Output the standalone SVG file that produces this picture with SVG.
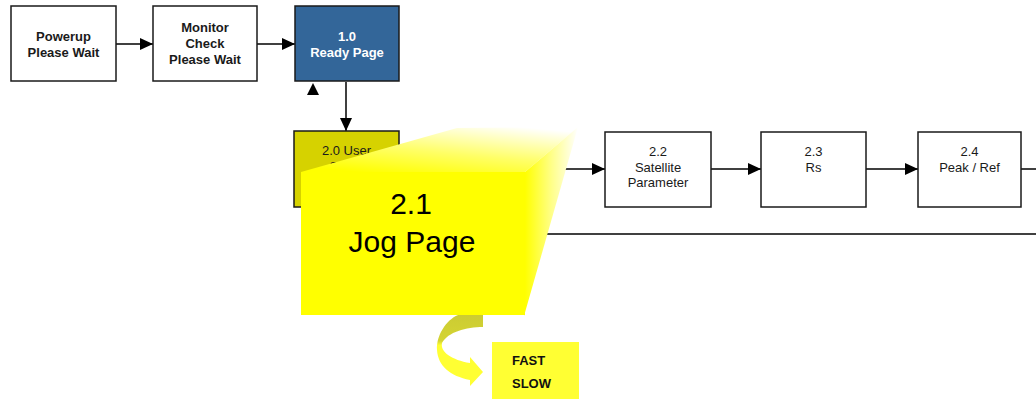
<svg xmlns="http://www.w3.org/2000/svg" width="1036" height="399" viewBox="0 0 1036 399">
  <style>
    .box { fill: #ffffff; stroke: #1a1a1a; stroke-width: 1.5; }
    .ready { fill: #336699; stroke: #1a1a1a; stroke-width: 1.5; }
    .user { fill: #d6d200; stroke: #1a1a1a; stroke-width: 1.5; }
    .lbl { font-family: "Liberation Sans", Arial, sans-serif; font-size: 13px; text-anchor: middle; fill: #1a1a1a; }
    .bold { font-weight: bold; }
    .white { fill: #ffffff; }
    .edge { stroke: #000000; stroke-width: 1.5; fill: none; }
    .big { font-family: "Liberation Sans", Arial, sans-serif; font-size: 30px; text-anchor: middle; fill: #000000; }
    .opt { font-family: "Liberation Sans", Arial, sans-serif; font-size: 13px; font-weight: bold; fill: #111111; }
  </style>
  <defs>
    <marker id="arrow" viewBox="0 0 13 12" refX="13" refY="6" markerWidth="13" markerHeight="12" markerUnits="userSpaceOnUse" orient="auto">
      <path d="M0,0 L13,6 L0,12 Z" fill="#000000"/>
    </marker>
    <linearGradient id="topFace" x1="0.2" y1="1" x2="0.8" y2="0">
      <stop offset="0" stop-color="#ffff00"/>
      <stop offset="0.45" stop-color="#ffff66"/>
      <stop offset="1" stop-color="#ffffff"/>
    </linearGradient>
    <linearGradient id="sideFace" gradientUnits="userSpaceOnUse" x1="525" y1="0" x2="578" y2="0">
      <stop offset="0" stop-color="#ffff00"/>
      <stop offset="0.5" stop-color="#ffff88"/>
      <stop offset="1" stop-color="#ffffff"/>
    </linearGradient>
    <linearGradient id="turn" gradientUnits="userSpaceOnUse" x1="0" y1="315" x2="0" y2="387">
      <stop offset="0" stop-color="#cccc33"/>
      <stop offset="0.36" stop-color="#d4d433"/>
      <stop offset="0.42" stop-color="#ffff33"/>
      <stop offset="1" stop-color="#ffff33"/>
    </linearGradient>
  </defs>

  <!-- connectors -->
  <g id="connectors">
    <line class="edge" x1="116" y1="44" x2="153" y2="44" marker-end="url(#arrow)"/>
    <line class="edge" x1="257" y1="44" x2="295" y2="44" marker-end="url(#arrow)"/>
    <path d="M313,83 L319,95 L307,95 Z" fill="#000000"/>
    <line class="edge" x1="346" y1="82" x2="346" y2="131" marker-end="url(#arrow)"/>
    <line class="edge" x1="530" y1="169" x2="605" y2="169" marker-end="url(#arrow)"/>
    <line class="edge" x1="711" y1="169" x2="761" y2="169" marker-end="url(#arrow)"/>
    <line class="edge" x1="866" y1="169" x2="918" y2="169" marker-end="url(#arrow)"/>
    <line class="edge" x1="1021" y1="169" x2="1036" y2="169"/>
    <line class="edge" x1="530" y1="234" x2="1036" y2="234"/>
  </g>

  <g id="powerup">
    <rect class="box" x="11" y="6" width="105" height="75"/>
    <text class="lbl bold" x="63.5" y="40.5">Powerup</text>
    <text class="lbl bold" x="63.5" y="56.5">Please Wait</text>
  </g>

  <g id="monitor-check">
    <rect class="box" x="153" y="6" width="104" height="75"/>
    <text class="lbl bold" x="205" y="32">Monitor</text>
    <text class="lbl bold" x="205" y="48">Check</text>
    <text class="lbl bold" x="205" y="64">Please Wait</text>
  </g>

  <g id="ready-page">
    <rect class="ready" x="295" y="6" width="104" height="75"/>
    <text class="lbl bold white" x="347" y="40.5">1.0</text>
    <text class="lbl bold white" x="347" y="56.5">Ready Page</text>
  </g>

  <g id="user-setup">
    <rect class="user" x="294" y="131" width="105" height="76"/>
    <text class="lbl" x="346.5" y="155">2.0 User</text>
    <text class="lbl" x="346.5" y="171">Setup</text>
  </g>

  <g id="satellite-parameter">
    <rect class="box" x="605" y="132" width="106" height="75"/>
    <text class="lbl" x="658" y="155.5">2.2</text>
    <text class="lbl" x="658" y="171.5">Satellite</text>
    <text class="lbl" x="658" y="186.5">Parameter</text>
  </g>

  <g id="rs">
    <rect class="box" x="761" y="132" width="105" height="75"/>
    <text class="lbl" x="813.5" y="155.5">2.3</text>
    <text class="lbl" x="813.5" y="171.5">Rs</text>
  </g>

  <g id="peak-ref">
    <rect class="box" x="918" y="132" width="103" height="75"/>
    <text class="lbl" x="969.5" y="155.5">2.4</text>
    <text class="lbl" x="969.5" y="171.5">Peak / Ref</text>
  </g>

  <!-- extruded block for the jog page -->
  <g id="jog-page">
    <polygon points="301,172 457,128 578,127 525,172" fill="url(#topFace)"/>
    <polygon points="525,172 578,127 524,316" fill="url(#sideFace)"/>
    <rect x="301" y="172" width="224" height="143" fill="#ffff00"/>
    <text class="big" x="411" y="214">2.1</text>
    <text class="big" x="412" y="252">Jog Page</text>
  </g>

  <!-- curled arrow to the speed options -->
  <g id="jog-turn">
    <path d="M483,315 L483,327 C466,327 448,332 442,343 C440,352 452,360 470,363 L470,357 L483,372 L470,386 L470,380 C450,376 438,366 437,350 C436,336 446,320 458,315 Z" fill="url(#turn)"/>
  </g>

  <g id="speed-options">
    <rect x="492" y="342" width="87" height="57" fill="#ffff33"/>
    <text class="opt" x="512" y="365">FAST</text>
    <text class="opt" x="512" y="388">SLOW</text>
  </g>
</svg>
